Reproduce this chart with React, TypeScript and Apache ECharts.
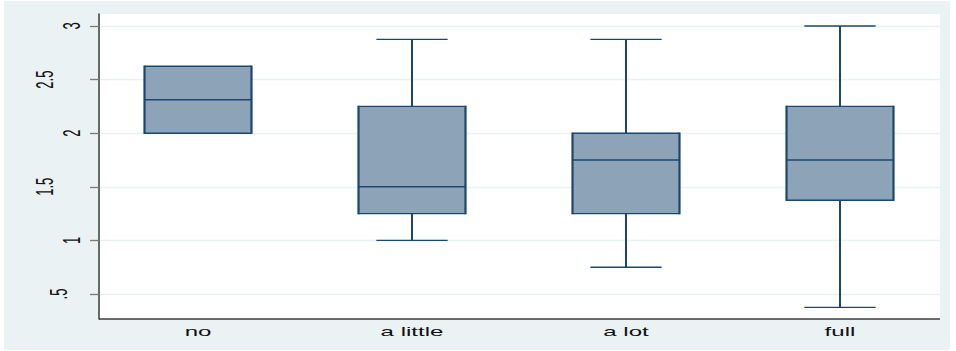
import { useEffect, useRef } from "react";
import * as echarts from "echarts";

// Satisfaction groups and their box-plot summaries
const categories = ["no", "a little", "a lot", "full"];
const lowerWhisker = [2, 1, 0.75, 0.375];
const lowerQuartile = [2, 1.25, 1.25, 1.375];
const medians = [2.3125, 1.5, 1.75, 1.75];
const upperQuartile = [2.625, 2.25, 2, 2.25];
const upperWhisker = [2.625, 2.875, 2.875, 3];

// Y axis ticks and their labels
const yTickValues = [0.5, 1, 1.5, 2, 2.5, 3];
const yTickLabels = [".5", "1", "1.5", "2", "2.5", "3"];

const NAVY = "#1A476F";
const BOX_FILL = "#8DA4B8";
const BG = "#EAF2F3";
const AXIS = "#3c3c3c";
const FONT = "'Liberation Sans', Arial, sans-serif";
const STRETCH = 1.85;

export default function App() {
  const ref = useRef<HTMLDivElement>(null);

  useEffect(() => {
    document.body.style.margin = "0";
    const chart = echarts.init(ref.current!, undefined, { renderer: "svg" });

    const data = categories.map((_, i) => [
      i,
      lowerWhisker[i],
      lowerQuartile[i],
      medians[i],
      upperQuartile[i],
      upperWhisker[i],
    ]);

    chart.setOption({
      animation: false,
      backgroundColor: "#ffffff",
      grid: { left: 91, right: 9, top: 14, bottom: 32, containLabel: false },
      xAxis: {
        type: "category",
        data: categories,
        boundaryGap: true,
        axisLine: { show: false },
        axisTick: { show: false },
        axisLabel: { show: false },
        splitLine: { show: false },
      },
      yAxis: {
        type: "value",
        min: 0.2668,
        max: 3.112,
        offset: -8,
        axisLine: { show: true, lineStyle: { color: AXIS, width: 1.5 } },
        axisTick: {
          show: true,
          length: 9,
          customValues: yTickValues,
          lineStyle: { color: "#7a7a7a", width: 1.3 },
        },
        axisLabel: { show: false, customValues: yTickValues },
        splitLine: { show: true, lineStyle: { color: BG, width: 1.3 } },
      },
      series: [
        {
          type: "custom",
          clip: false,
          encode: { x: 0, y: [1, 2, 3, 4, 5] },
          data,
          renderItem: (params: any, api: any) => {
            const idx = api.value(0);
            const lo = api.coord([idx, api.value(1)]);
            const q1 = api.coord([idx, api.value(2)]);
            const md = api.coord([idx, api.value(3)]);
            const q3 = api.coord([idx, api.value(4)]);
            const hi = api.coord([idx, api.value(5)]);
            const band = api.size([1, 0])[0];
            const bw = band * 0.5;
            const cw = band * 0.333;
            const cx = md[0];
            const left = cx - bw / 2;
            const right = cx + bw / 2;
            const hLine = (x1: number, x2: number, y: number, w: number) => ({
              type: "line",
              shape: { x1, y1: y, x2, y2: y },
              style: { stroke: NAVY, lineWidth: w },
            });
            const vLine = (x: number, y1: number, y2: number, w: number) => ({
              type: "line",
              shape: { x1: x, y1, x2: x, y2 },
              style: { stroke: NAVY, lineWidth: w },
            });
            const children: any[] = [];
            if (api.value(5) > api.value(4)) {
              children.push(vLine(cx, hi[1], q3[1], 2));
              children.push(hLine(cx - cw / 2, cx + cw / 2, hi[1], 1.4));
            }
            if (api.value(1) < api.value(2)) {
              children.push(vLine(cx, q1[1], lo[1], 2));
              children.push(hLine(cx - cw / 2, cx + cw / 2, lo[1], 1.4));
            }
            children.push({
              type: "rect",
              shape: { x: left, y: q3[1], width: bw, height: q1[1] - q3[1] },
              style: { fill: BOX_FILL },
            });
            children.push(hLine(left, right, q3[1], 1.4));
            children.push(hLine(left, right, q1[1], 1.4));
            children.push(vLine(left, q3[1] - 0.7, q1[1] + 0.7, 2.2));
            children.push(vLine(right, q3[1] - 0.7, q1[1] + 0.7, 2.2));
            children.push(hLine(left, right, md[1], 1.4));
            return { type: "group", children };
          },
        },
      ],
    });

    const textStyle = (text: string) => ({
      text,
      fontSize: 13,
      fontFamily: FONT,
      fill: "#111111",
      align: "center",
      verticalAlign: "middle",
      textAlign: "center",
      textVerticalAlign: "middle",
    });

    const graphics: any[] = [
      {
        type: "rect",
        id: "outer-bg",
        z: -20,
        shape: { x: 4, y: 1, width: 946, height: 349 },
        style: { fill: BG },
      },
      {
        type: "rect",
        id: "plot-bg",
        z: -10,
        shape: { x: 100, y: 14, width: 840, height: 305 },
        style: { fill: "#ffffff" },
      },
      {
        type: "line",
        id: "x-axis-line",
        z: 5,
        shape: { x1: 99, y1: 319, x2: 940, y2: 319 },
        style: { stroke: AXIS, lineWidth: 1.3 },
      },
    ];

    // category labels, widened horizontally
    categories.forEach((c, i) => {
      const px = chart.convertToPixel({ xAxisIndex: 0 }, c) as number;
      graphics.push({
        type: "group",
        id: "xl-" + i,
        x: px,
        y: 332,
        scaleX: STRETCH,
        children: [{ type: "text", x: 0, y: 0, style: textStyle(c) }],
      });
    });

    // vertical tick labels, widened horizontally after rotation
    yTickValues.forEach((v, i) => {
      const py = chart.convertToPixel({ yAxisIndex: 0 }, v) as number;
      const label = yTickLabels[i];
      graphics.push({
        type: "group",
        id: "yl-" + i,
        x: 72 - 13.5 * (label.length - 1),
        y: py,
        scaleX: STRETCH,
        children: [
          {
            type: "text",
            x: 0,
            y: 0,
            rotation: Math.PI / 2,
            style: textStyle(label),
          },
        ],
      });
    });

    chart.setOption({ graphic: { elements: graphics } });

    return () => chart.dispose();
  }, []);

  return (
    <div
      ref={ref}
      style={{ position: "absolute", left: 0, top: 0, width: 956, height: 351 }}
    />
  );
}
